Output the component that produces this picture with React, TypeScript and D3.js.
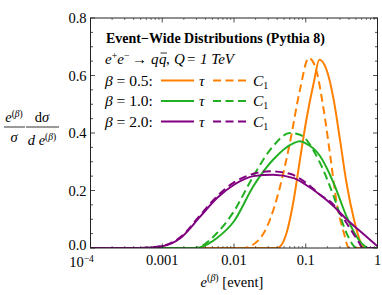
import React from "react";
import * as d3 from "d3";

// curves: [e, value]
const tauB05: [number, number][] = [
  [0.04, 0], [0.044, 0.005], [0.054, 0.052], [0.068, 0.168], [0.083, 0.307],
  [0.102, 0.446], [0.129, 0.574], [0.155, 0.655], [0.195, 0.62], [0.245, 0.516],
  [0.3, 0.377], [0.37, 0.226], [0.47, 0.099], [0.575, 0.023], [0.68, 0],
];
const c1B05: [number, number][] = [
  [0.0135, 0], [0.0186, 0.012], [0.029, 0.075], [0.044, 0.215], [0.06, 0.365],
  [0.083, 0.55], [0.11, 0.661], [0.135, 0.632], [0.178, 0.48], [0.22, 0.319],
  [0.27, 0.157], [0.34, 0.052], [0.4, 0],
];
const tauB10: [number, number][] = [
  [0.003, 0], [0.0034, 0.003], [0.0058, 0.035], [0.01, 0.093], [0.0186, 0.215],
  [0.035, 0.307], [0.068, 0.365], [0.083, 0.371], [0.1, 0.364], [0.158, 0.32],
  [0.245, 0.226], [0.37, 0.11], [0.51, 0.04], [0.7, 0.003], [0.75, 0],
];
const c1B10: [number, number][] = [
  [0.0028, 0], [0.0034, 0.005], [0.0058, 0.052], [0.01, 0.128], [0.0186, 0.25],
  [0.035, 0.354], [0.06, 0.4], [0.083, 0.394], [0.158, 0.296], [0.245, 0.18],
  [0.37, 0.052], [0.47, 0.006], [0.5, 0],
];
const tauB20: [number, number][] = [
  [0.0001, 0], [0.0004, 0], [0.0006, 0.001], [0.001, 0.006], [0.0018, 0.035],
  [0.0034, 0.11], [0.0058, 0.174], [0.01, 0.22], [0.0186, 0.25], [0.035, 0.255],
  [0.068, 0.243], [0.1, 0.22], [0.158, 0.185], [0.245, 0.145], [0.37, 0.1],
  [0.575, 0.058], [1, 0.006],
];
const c1B20: [number, number][] = [
  [0.0001, 0], [0.0004, 0], [0.0006, 0.001], [0.001, 0.007], [0.0018, 0.038],
  [0.0034, 0.115], [0.0058, 0.18], [0.01, 0.228], [0.0186, 0.258], [0.032, 0.267],
  [0.06, 0.258], [0.1, 0.228], [0.158, 0.185], [0.245, 0.15], [0.3, 0.12],
  [0.37, 0.087], [0.46, 0.05], [0.55, 0.02], [0.62, 0],
];

const betaLabels = ["0.5", "1.0", "2.0"];
const colors = ["#ff8000", "#22b022", "#800080"];
const xTicks = [0.0001, 0.001, 0.01, 0.1, 1];
const xTickLabels = ["", "0.001", "0.01", "0.1", "1"];
const yTicks = [0, 0.2, 0.4, 0.6, 0.8];

const W = 382;
const H = 295;
const m = { left: 90.5, right: 377.5, top: 18, bottom: 248 };
const font = "'Liberation Serif', 'Times New Roman', serif";
const dash = "8,4.5";

export default function App() {
  const x = d3.scaleLog().domain([1e-4, 1]).range([m.left, m.right]);
  const y = d3.scaleLinear().domain([0, 0.8]).range([m.bottom, m.top]);
  const line = d3
    .line<[number, number]>()
    .x((d) => x(d[0]))
    .y((d) => y(d[1]))
    .curve(d3.curveMonotoneX);

  const series = [
    { d: tauB05, c: 0, dash: false },
    { d: c1B05, c: 0, dash: true },
    { d: tauB10, c: 1, dash: false },
    { d: c1B10, c: 1, dash: true },
    { d: tauB20, c: 2, dash: false },
    { d: c1B20, c: 2, dash: true },
  ];

  // extend flat zero segments to the frame edges
  const withFloor = (d: [number, number][]) => {
    const out = d.slice();
    if (out[0][0] > 1e-4) out.unshift([1e-4, 0]);
    if (out[out.length - 1][0] < 1) out.push([1, 0]);
    return out;
  };

  const minorX: number[] = [];
  for (let e = -4; e < 0; e++)
    for (let k = 2; k <= 9; k++) minorX.push(k * Math.pow(10, e));
  const minorY = d3.range(0, 0.8001, 0.05);

  const legendY = [80.5, 101, 121.5];

  return (
    <svg
      width={W}
      height={H}
      style={{ position: "absolute", left: 0, top: 0, background: "#fff" }}
      fontFamily={font}
    >
      <defs>
        <clipPath id="plot">
          <rect x={m.left} y={m.top} width={m.right - m.left} height={m.bottom - m.top} />
        </clipPath>
      </defs>

      {/* curves */}
      <g clipPath="url(#plot)">
        {series.map((s, i) => (
          <path
            key={i}
            d={line(withFloor(s.d)) || ""}
            fill="none"
            stroke={colors[s.c]}
            strokeWidth={2}
            strokeDasharray={s.dash ? dash : undefined}
          />
        ))}
      </g>

      {/* frame */}
      <rect
        x={m.left}
        y={m.top}
        width={m.right - m.left}
        height={m.bottom - m.top}
        fill="none"
        stroke="#222"
        strokeWidth={1}
      />

      {/* y ticks */}
      {minorY.map((v, i) => {
        const major = Math.abs(v * 5 - Math.round(v * 5)) < 1e-6;
        const len = major ? 4.5 : 2.5;
        return (
          <g key={"y" + i} stroke="#222" strokeWidth={0.8}>
            <line x1={m.left} x2={m.left + len} y1={y(v)} y2={y(v)} />
            <line x1={m.right} x2={m.right - len} y1={y(v)} y2={y(v)} />
          </g>
        );
      })}
      {yTicks.map((v) => (
        <text
          key={"yl" + v}
          x={m.left - 4}
          y={y(v)}
          dy={v === 0 ? "0.15em" : "0.35em"}
          textAnchor="end"
          fontSize={14.5}
        >
          {v.toFixed(1)}
        </text>
      ))}

      {/* x ticks */}
      {minorX.map((v, i) => (
        <g key={"xm" + i} stroke="#222" strokeWidth={0.6}>
          <line x1={x(v)} x2={x(v)} y1={m.bottom} y2={m.bottom - 2} />
          <line x1={x(v)} x2={x(v)} y1={m.top} y2={m.top + 2} />
        </g>
      ))}
      {xTicks.map((v, i) => (
        <g key={"x" + i}>
          <line x1={x(v)} x2={x(v)} y1={m.bottom} y2={m.bottom - 4.5} stroke="#222" strokeWidth={0.8} />
          <line x1={x(v)} x2={x(v)} y1={m.top} y2={m.top + 4.5} stroke="#222" strokeWidth={0.8} />
          {i === 0 ? (
            <text x={x(v) - 9} y={m.bottom + 18.5} textAnchor="middle" fontSize={14.5}>
              10
              <tspan fontSize={9.5} dy={-5}>−4</tspan>
            </text>
          ) : (
            <text x={x(v)} y={m.bottom + 16.5} textAnchor="middle" fontSize={14.5}>
              {xTickLabels[i]}
            </text>
          )}
        </g>
      ))}

      {/* x axis label */}
      <text x={232} y={287} textAnchor="middle" fontSize={14.5}>
        <tspan fontStyle="italic">e</tspan>
        <tspan fontSize={10} dy={-6}>(</tspan>
        <tspan fontSize={10} fontStyle="italic">β</tspan>
        <tspan fontSize={10}>)</tspan>
        <tspan dy={6}> [event]</tspan>
      </text>

      {/* y axis label */}
      <g fontSize={14.5}>
        <text x={14} y={122} textAnchor="middle">
          <tspan fontStyle="italic">e</tspan>
          <tspan fontSize={9.5} dy={-5}>(</tspan>
          <tspan fontSize={9.5} fontStyle="italic">β</tspan>
          <tspan fontSize={9.5}>)</tspan>
        </text>
        <line x1={4} x2={25} y1={127} y2={127} stroke="#000" strokeWidth={0.8} />
        <text x={14} y={142} textAnchor="middle" fontStyle="italic">σ</text>

        <text x={42} y={122} textAnchor="middle">
          d<tspan fontStyle="italic">σ</tspan>
        </text>
        <line x1={26} x2={59} y1={127} y2={127} stroke="#000" strokeWidth={0.8} />
        <text x={42} y={145} textAnchor="middle">
          <tspan fontStyle="italic">d e</tspan>
          <tspan fontSize={9.5} dy={-5}>(</tspan>
          <tspan fontSize={9.5} fontStyle="italic">β</tspan>
          <tspan fontSize={9.5}>)</tspan>
        </text>
      </g>

      {/* in-plot title */}
      <text x={106} y={42.5} fontSize={14} fontWeight="bold">
        Event−Wide Distributions (Pythia 8)
      </text>
      <g fontSize={15}>
        <text x={105} y={64}>
          <tspan fontStyle="italic">e</tspan>
          <tspan fontSize={10} dy={-5.5}>+</tspan>
          <tspan fontStyle="italic" dy={5.5}>e</tspan>
          <tspan fontSize={10} dy={-5.5}>−</tspan>
        </text>
        <text x={132} y={64}>→</text>
        <text x={151} y={64} fontStyle="italic">q</text>
        <text x={159} y={64} fontStyle="italic">q</text>
        <line x1={160.5} x2={167} y1={53} y2={53} stroke="#000" strokeWidth={0.8} />
        <text x={166} y={64}>,</text>
        <text x={174} y={64} fontStyle="italic">Q</text>
        <text x={187} y={64}>=</text>
        <text x={200} y={64} fontStyle="italic">1 TeV</text>
      </g>

      {/* legend */}
      {betaLabels.map((b, i) => (
        <g key={"lg" + i}>
          <text x={105} y={legendY[i] + 5} fontSize={15.5}>
            <tspan fontStyle="italic">β</tspan> = {b}:
          </text>
          <line x1={161} x2={194} y1={legendY[i]} y2={legendY[i]} stroke={colors[i]} strokeWidth={2} />
          <text x={199} y={legendY[i] + 5} fontSize={15.5} fontStyle="italic">τ</text>
          <line
            x1={213}
            x2={247}
            y1={legendY[i]}
            y2={legendY[i]}
            stroke={colors[i]}
            strokeWidth={2}
            strokeDasharray={dash}
          />
          <text x={253} y={legendY[i] + 5} fontSize={15.5} fontStyle="italic">
            C<tspan fontSize={10} fontStyle="normal" dy={3}>1</tspan>
          </text>
        </g>
      ))}
    </svg>
  );
}
